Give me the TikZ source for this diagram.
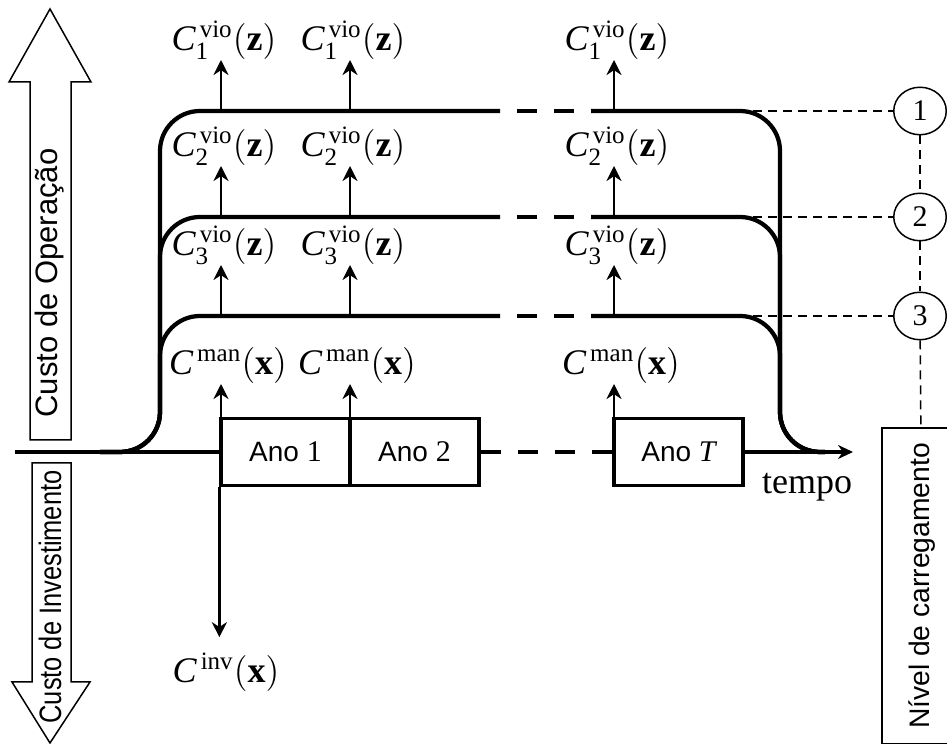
\documentclass[tikz,border=0pt]{standalone}
\usepackage{fontspec}
\setmainfont{Liberation Serif}
\setsansfont{Liberation Sans}
\usetikzlibrary{arrows.meta,shapes.geometric}

\newcommand{\Cvio}[1]{$\mathit{C}_{\mathrm{#1}}^{\,\mathrm{vio}}\bigl(\mathbf{z}\bigr)$}
\newcommand{\Cman}{$\mathit{C}^{\,\mathrm{man}}\bigl(\mathbf{x}\bigr)$}
\newcommand{\Cinv}{$\mathit{C}^{\,\mathrm{inv}}\bigl(\mathbf{x}\bigr)$}
\newcommand{\yr}[1]{{\rmfamily\fontsize{12pt}{14pt}\selectfont #1}}

\begin{document}
\begin{tikzpicture}[x=0.4pt, y=-0.4pt,
        cost/.style={line width=1.7pt, rounded corners=16pt},
        gapline/.style={line width=1.7pt, dash pattern=on 8pt off 6.8pt},
        year/.style={draw, line width=1.3pt, fill=white, minimum width=51.6pt, minimum height=27pt,
            inner sep=0pt, font=\sffamily\fontsize{11.2pt}{13pt}\selectfont},
        flow/.style={line width=1.1pt, -{Stealth[length=6pt, width=6pt]}},
        lbl/.style={inner sep=0pt, font=\fontsize{14.4pt}{17pt}\selectfont},
        lvl/.style={draw, ellipse, line width=0.6pt, fill=white, minimum width=21pt, minimum height=19pt,
            inner sep=0pt, font=\fontsize{12pt}{14pt}\selectfont},
        guide/.style={line width=0.6pt, dash pattern=on 3.6pt off 2.4pt},
        block/.style={draw, line width=0.6pt},
        side/.style={rotate=90, inner sep=0pt, font=\sffamily\fontsize{12.4pt}{14pt}\selectfont},
    ]
    \useasboundingbox (0,0) rectangle (947,744);
    \clip (0,0) rectangle (947,744);

    % cost arrows on the left
    \draw[block] (30,440) -- (30,82) -- (9,82) -- (50,9) -- (91,82) -- (71,82) -- (71,440) -- cycle;
    \node[side] (oper) at (50,283) {Custo de Operação};
    \draw[block] (32,463) -- (32,682) -- (12,682) -- (50,743) -- (90,682) -- (71,682) -- (71,463) -- cycle;
    \node[side] (invest) at (50,597) {\scalebox{0.82}[1]{Custo de Investimento}};

    % loading levels
    \foreach \y in {316,217,111} {
        \draw[cost] (100,452) -- (160,452) -- (160,\y) -- (500,\y);
        \draw[gapline, dash phase=8pt] (500,\y) -- (591,\y);
        \draw[cost] (591,\y) -- (780,\y) -- (780,452) -- (825,452);
    }

    % years on the time axis
    \node[year] (ano1) at (285.5,452) {Ano \yr{1}};
    \node[year] (ano2) at (414.5,452) {Ano \yr{2}};
    \node[year] (anot) at (678.5,452) {Ano \yr{\itshape T}};
    \coordinate (tend) at (853,452);
    \draw[cost] (15,452) -- (ano1.west);
    \draw[gapline] (ano2.east) -- (anot.west);
    \draw[line width=1.7pt, -{Stealth[length=6pt, width=5.6pt]}] (anot.east) -- (tend);
    \node[lbl] (tempo) at (807,487) {tempo};

    % costs per year
    \foreach \x/\k in {221/a,350/b,614/c} {
        \node[lbl, anchor=south] (vio1\k) at (\x+3,60) {\Cvio{1}};
        \node[lbl, anchor=south] (vio2\k) at (\x+3,166) {\Cvio{2}};
        \node[lbl, anchor=south] (vio3\k) at (\x+3,265) {\Cvio{3}};
        \node[lbl, anchor=south] (man\k) at (\x+7,384) {\Cman};
        \draw[flow] (\x,111) -- (\x,0 |- vio1\k.south);
        \draw[flow] (\x,217) -- (\x,0 |- vio2\k.south);
        \draw[flow] (\x,316) -- (\x,0 |- vio3\k.south);
        \draw[flow] (\x,418) -- (\x,0 |- man\k.south);
    }
    \node[lbl] (cinv) at (226,672) {\Cinv};
    \draw[flow, shorten >=6pt] (ano1.south west) -- (ano1.south west |- cinv.north);

    % loading level markers
    \node[lvl] (n1) at (920,111) {1};
    \node[lvl] (n2) at (920,217) {2};
    \node[lvl] (n3) at (920,316) {3};
    \node[draw, line width=0.6pt, minimum width=32pt, minimum height=126.4pt, inner sep=0pt] (level) at (922,586)
        {\rotatebox{90}{\sffamily\fontsize{11.3pt}{13pt}\selectfont Nível de carregamento}};
    \draw[guide] (753,111) -- (n1);
    \draw[guide] (753,217) -- (n2);
    \draw[guide] (753,316) -- (n3);
    \draw[guide] (n1) -- (n2);
    \draw[guide] (n2) -- (n3);
    \draw[guide] (n3) -- (level);
\end{tikzpicture}
\end{document}
